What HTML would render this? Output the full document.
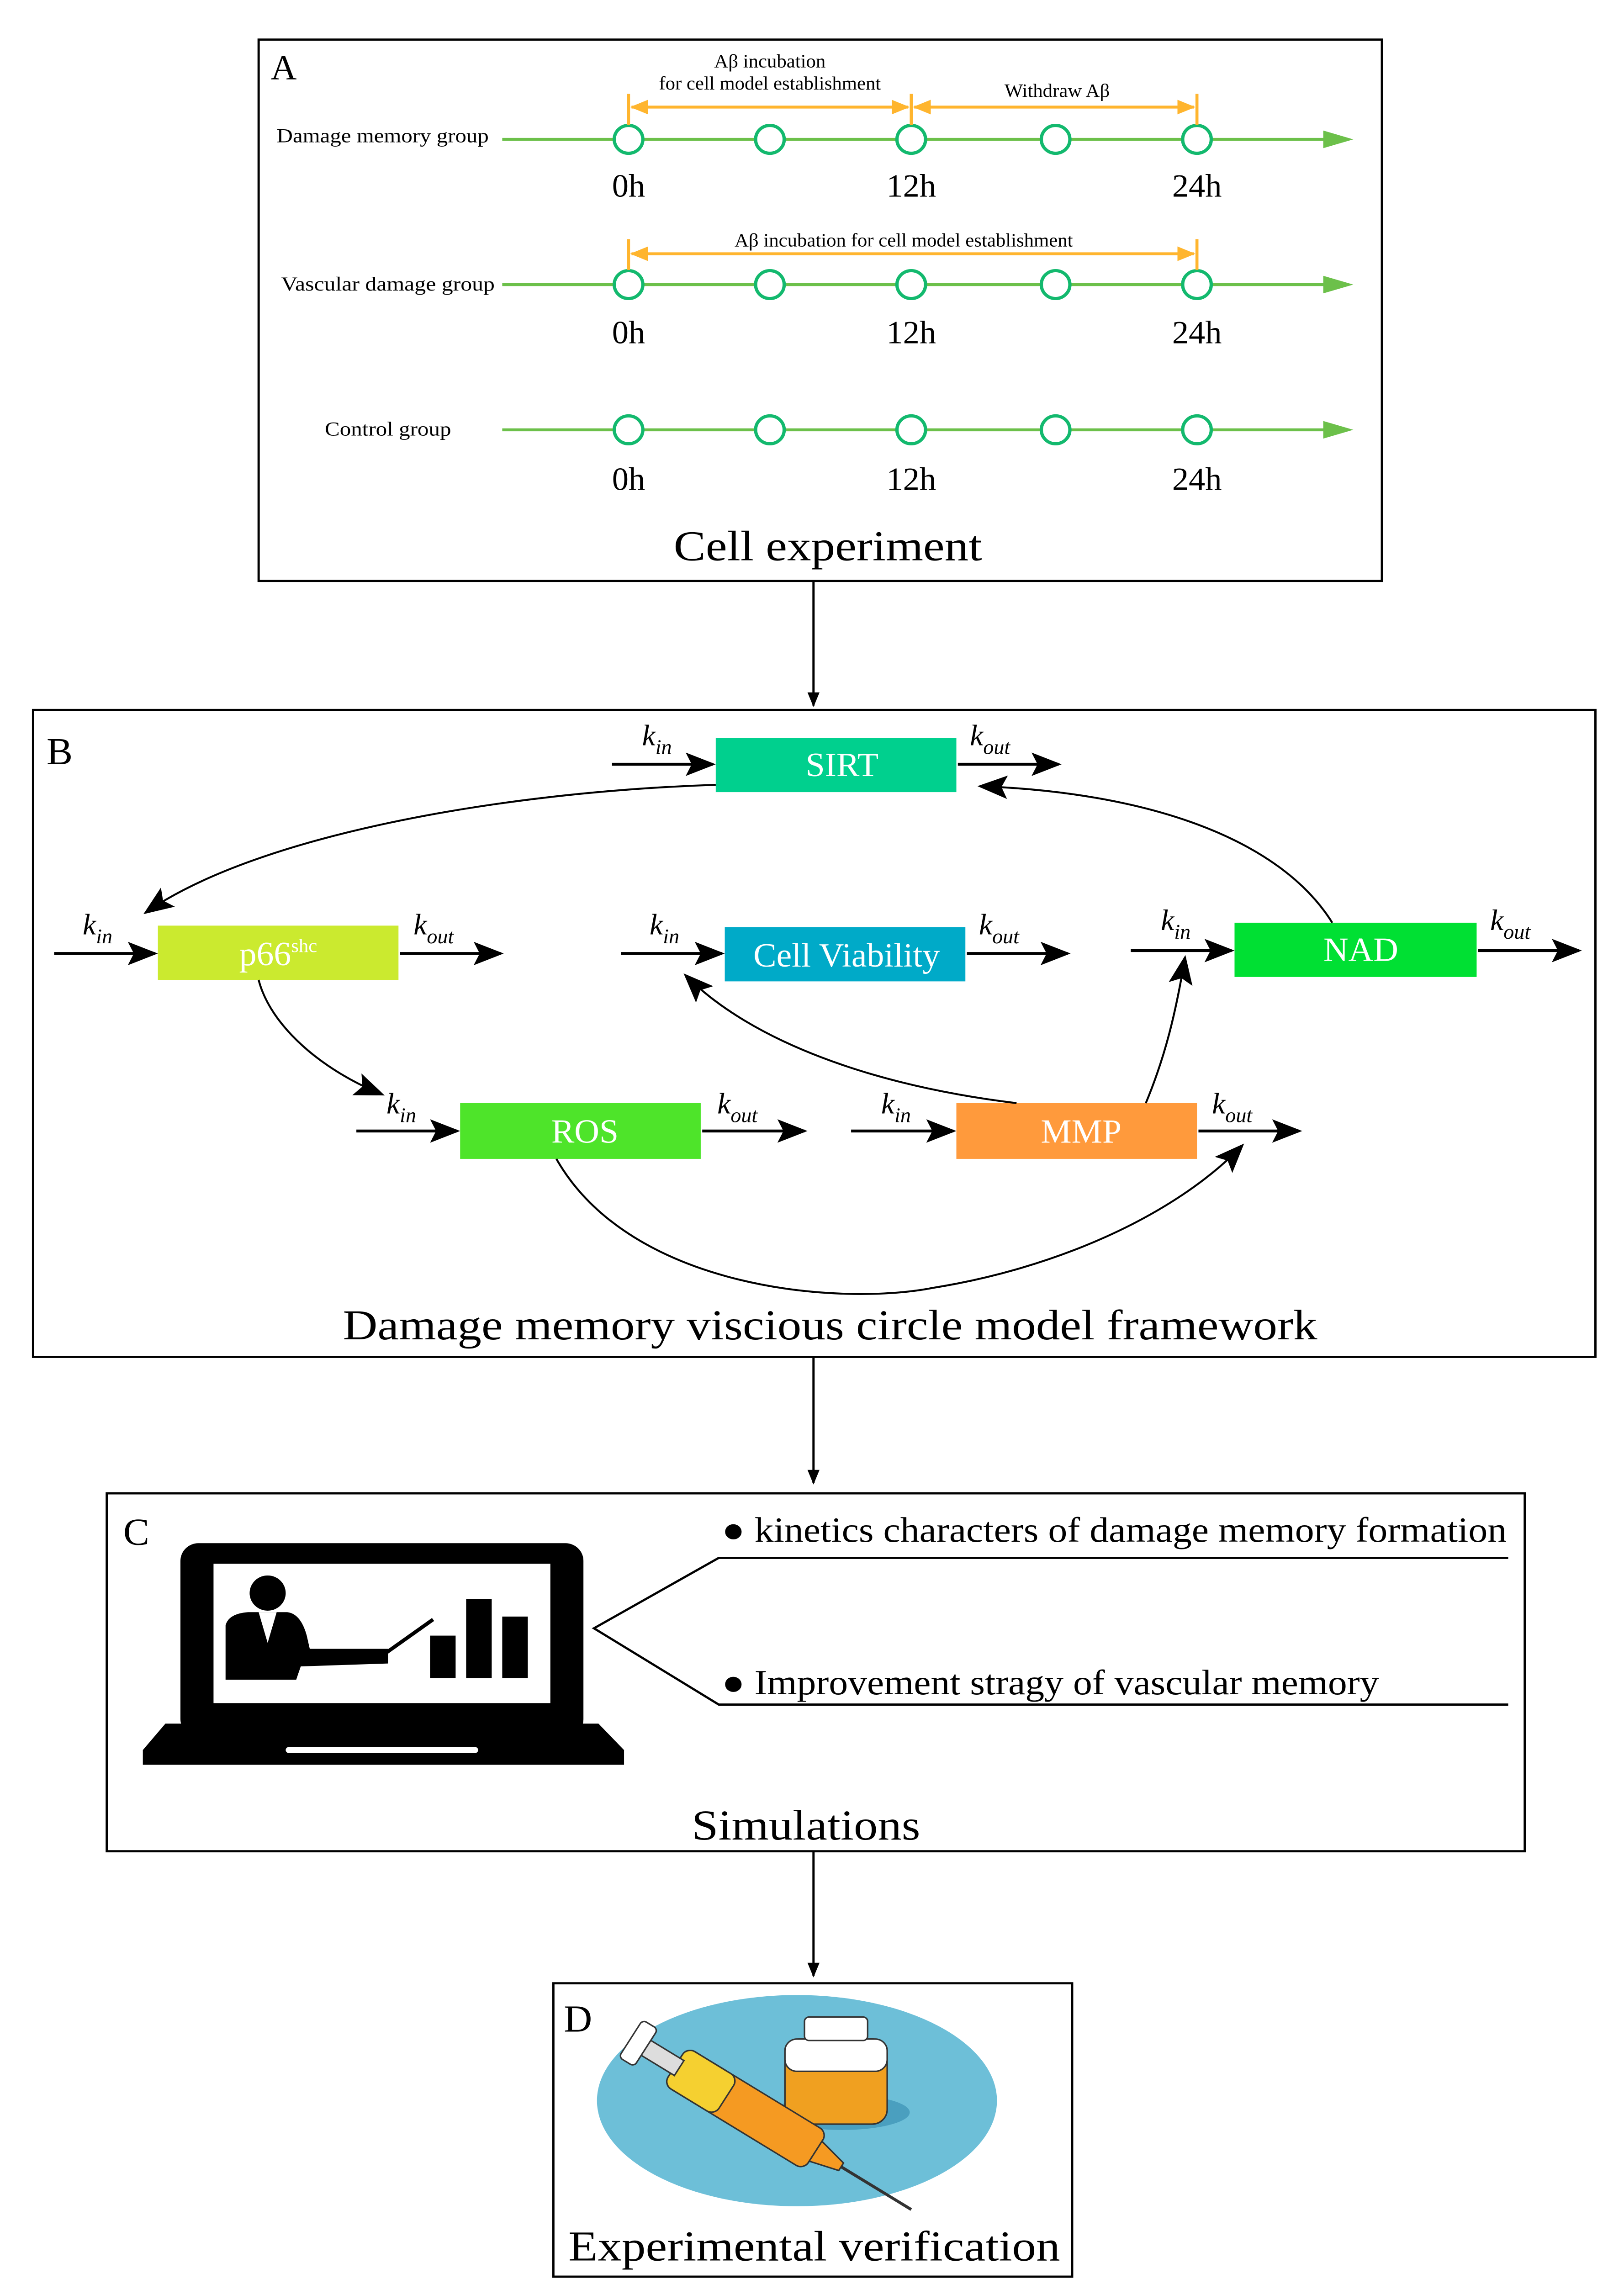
<!DOCTYPE html>
<html><head><meta charset="utf-8"><style>html,body{margin:0;padding:0;background:#fff;width:100%;height:100%;overflow:hidden}svg{display:block;position:fixed;left:0;top:0;width:100vw;height:100vh}</style></head>
<body>
<svg xmlns="http://www.w3.org/2000/svg" viewBox="0 0 1080 1557" preserveAspectRatio="none" font-family="Liberation Serif, serif">
<defs>
<marker id="ab" markerWidth="10" markerHeight="8" refX="9" refY="4" orient="auto" markerUnits="userSpaceOnUse"><path d="M0,0 L10,4 L0,8z" fill="#000"/></marker>
<marker id="abig" markerWidth="20" markerHeight="16" refX="18" refY="8" orient="auto" markerUnits="userSpaceOnUse"><path d="M0,0 L20,8 L0,16 L4,8z" fill="#000"/></marker>
<marker id="ao" markerWidth="12" markerHeight="10" refX="11" refY="5" orient="auto-start-reverse" markerUnits="userSpaceOnUse"><path d="M0,0 L12,5 L0,10z" fill="#ffb52e"/></marker>
</defs>
<!-- Panel A -->
<rect x="172" y="27" width="747" height="369" fill="none" stroke="#000" stroke-width="1.5"/>
<text x="180" y="54" font-size="24">A</text>
<g stroke="#6cc04a" stroke-width="2">
<line x1="334" y1="95" x2="885" y2="95"/><line x1="334" y1="194" x2="885" y2="194"/><line x1="334" y1="293" x2="885" y2="293"/>
</g>
<g fill="#6cc04a"><path d="M880,89 L900,95 L880,101z"/><path d="M880,188 L900,194 L880,200z"/><path d="M880,287 L900,293 L880,299z"/></g>
<g fill="#fff" stroke="#13b96e" stroke-width="2.2">
<circle cx="418" cy="95" r="9.5"/><circle cx="512" cy="95" r="9.5"/><circle cx="606" cy="95" r="9.5"/><circle cx="702" cy="95" r="9.5"/><circle cx="796" cy="95" r="9.5"/>
<circle cx="418" cy="194" r="9.5"/><circle cx="512" cy="194" r="9.5"/><circle cx="606" cy="194" r="9.5"/><circle cx="702" cy="194" r="9.5"/><circle cx="796" cy="194" r="9.5"/>
<circle cx="418" cy="293" r="9.5"/><circle cx="512" cy="293" r="9.5"/><circle cx="606" cy="293" r="9.5"/><circle cx="702" cy="293" r="9.5"/><circle cx="796" cy="293" r="9.5"/>
</g>
<g stroke="#ffb52e" stroke-width="2" fill="none">
<line x1="418" y1="64" x2="418" y2="85"/><line x1="606" y1="64" x2="606" y2="85"/><line x1="796" y1="64" x2="796" y2="85"/>
<line x1="420" y1="73" x2="604" y2="73" marker-start="url(#ao)" marker-end="url(#ao)"/>
<line x1="608" y1="73" x2="794" y2="73" marker-start="url(#ao)" marker-end="url(#ao)"/>
<line x1="418" y1="163" x2="418" y2="184"/><line x1="796" y1="163" x2="796" y2="184"/>
<line x1="420" y1="173" x2="794" y2="173" marker-start="url(#ao)" marker-end="url(#ao)"/>
</g>
<g font-size="13" text-anchor="middle">
<text x="512" y="46">Aβ incubation</text>
<text x="512" y="61">for cell model establishment</text>
<text x="703" y="66">Withdraw Aβ</text>
<text x="601" y="168">Aβ incubation for cell model establishment</text>
</g>
<g font-size="13.5" text-anchor="end">
<text x="325" y="97" textLength="141" lengthAdjust="spacingAndGlyphs">Damage memory group</text>
<text x="329" y="198" textLength="142" lengthAdjust="spacingAndGlyphs">Vascular damage group</text>
<text x="300" y="297" textLength="84" lengthAdjust="spacingAndGlyphs">Control group</text>
</g>
<g font-size="22" text-anchor="middle">
<text x="418" y="134">0h</text><text x="606" y="134">12h</text><text x="796" y="134">24h</text>
<text x="418" y="234">0h</text><text x="606" y="234">12h</text><text x="796" y="234">24h</text>
<text x="418" y="334">0h</text><text x="606" y="334">12h</text><text x="796" y="334">24h</text>
</g>
<text x="448" y="382" font-size="29" textLength="205" lengthAdjust="spacingAndGlyphs">Cell experiment</text>
<line x1="541" y1="396" x2="541" y2="481" stroke="#000" stroke-width="1.5" marker-end="url(#ab)"/>
<!-- Panel B -->
<rect x="22" y="484" width="1039" height="441" fill="none" stroke="#000" stroke-width="1.5"/>
<text x="31" y="521" font-size="26">B</text>
<rect x="476" y="503" width="160" height="37" fill="#00d08e"/>
<rect x="105" y="631" width="160" height="37" fill="#cbea2f"/>
<rect x="482" y="632" width="160" height="37" fill="#00aac8"/>
<rect x="821" y="629" width="161" height="37" fill="#00e033"/>
<rect x="306" y="752" width="160" height="38" fill="#4ee42a"/>
<rect x="636" y="752" width="160" height="38" fill="#ff9a3c"/>
<g fill="#fff" font-size="23" text-anchor="middle">
<text x="560" y="529">SIRT</text>
<text x="185" y="658">p66<tspan font-size="13" dy="-9">shc</tspan></text>
<text x="563" y="659">Cell Viability</text>
<text x="905" y="655">NAD</text>
<text x="389" y="779">ROS</text>
<text x="719" y="779">MMP</text>
</g>
<g stroke="#000" stroke-width="2" marker-end="url(#abig)">
<line x1="407" y1="521" x2="474" y2="521"/><line x1="637" y1="521" x2="704" y2="521"/>
<line x1="36" y1="650" x2="103" y2="650"/><line x1="266" y1="650" x2="333" y2="650"/>
<line x1="413" y1="650" x2="480" y2="650"/><line x1="643" y1="650" x2="710" y2="650"/>
<line x1="752" y1="648" x2="819" y2="648"/><line x1="983" y1="648" x2="1050" y2="648"/>
<line x1="237" y1="771" x2="304" y2="771"/><line x1="467" y1="771" x2="535" y2="771"/>
<line x1="566" y1="771" x2="634" y2="771"/><line x1="797" y1="771" x2="864" y2="771"/>
</g>
<g font-size="20" font-style="italic">
<text x="427" y="508">k<tspan font-size="14" dy="6">in</tspan></text>
<text x="645" y="508">k<tspan font-size="14" dy="6">out</tspan></text>
<text x="55" y="637">k<tspan font-size="14" dy="6">in</tspan></text>
<text x="275" y="637">k<tspan font-size="14" dy="6">out</tspan></text>
<text x="432" y="637">k<tspan font-size="14" dy="6">in</tspan></text>
<text x="651" y="637">k<tspan font-size="14" dy="6">out</tspan></text>
<text x="772" y="634">k<tspan font-size="14" dy="6">in</tspan></text>
<text x="991" y="634">k<tspan font-size="14" dy="6">out</tspan></text>
<text x="257" y="759">k<tspan font-size="14" dy="6">in</tspan></text>
<text x="477" y="759">k<tspan font-size="14" dy="6">out</tspan></text>
<text x="586" y="759">k<tspan font-size="14" dy="6">in</tspan></text>
<text x="806" y="759">k<tspan font-size="14" dy="6">out</tspan></text>
</g>
<g stroke="#000" stroke-width="1.3" fill="none" marker-end="url(#abig)">
<path d="M476,535 C330,540 170,570 97,622"/>
<path d="M886,629 C850,570 760,540 652,536"/>
<path d="M172,668 C180,700 215,730 254,746"/>
<path d="M676,752 C580,740 500,710 456,665"/>
<path d="M762,752 C775,720 782,690 788,653"/>
<path d="M370,790 C420,880 560,890 620,878 C700,865 780,830 826,781"/>
</g>
<text x="228" y="913" font-size="29" textLength="648" lengthAdjust="spacingAndGlyphs">Damage memory viscious circle model framework</text>
<line x1="541" y1="925" x2="541" y2="1011" stroke="#000" stroke-width="1.5" marker-end="url(#ab)"/>
<!-- Panel C -->
<rect x="71" y="1018" width="943" height="244" fill="none" stroke="#000" stroke-width="1.5"/>
<text x="82" y="1053" font-size="26">C</text>
<rect x="120" y="1052" width="268" height="132" rx="12" fill="#000"/>
<rect x="142" y="1066" width="224" height="95" fill="#fff"/>
<path d="M110,1175 L398,1175 L415,1193 L415,1203 L95,1203 L95,1193z" fill="#000"/>
<rect x="190" y="1191" width="128" height="4" rx="2" fill="#fff"/>
<circle cx="178" cy="1086" r="12" fill="#000"/>
<path d="M150,1145 L150,1108 Q152,1100 165,1099 L191,1099 Q200,1100 204,1115 L206,1124 L258,1124 L258,1134 L200,1136 L197,1145z" fill="#000"/>
<path d="M172,1099 L178,1120 L184,1099z" fill="#fff"/>
<line x1="255" y1="1128" x2="288" y2="1104" stroke="#000" stroke-width="2.5"/>
<rect x="286" y="1115" width="17" height="29" fill="#000"/>
<rect x="310" y="1090" width="17" height="54" fill="#000"/>
<rect x="334" y="1102" width="17" height="42" fill="#000"/>
<polyline points="1003,1062 478,1062 395,1110 478,1162 1003,1162" fill="none" stroke="#000" stroke-width="1.5"/>
<g font-size="24">
<text x="480" y="1051" textLength="522" lengthAdjust="spacingAndGlyphs">● kinetics characters of damage memory formation</text>
<text x="480" y="1155" textLength="437" lengthAdjust="spacingAndGlyphs">● Improvement stragy of vascular memory</text>
</g>
<text x="460" y="1254" font-size="29" textLength="152" lengthAdjust="spacingAndGlyphs">Simulations</text>
<line x1="541" y1="1262" x2="541" y2="1347" stroke="#000" stroke-width="1.5" marker-end="url(#ab)"/>
<!-- Panel D -->
<rect x="368" y="1352" width="345" height="200" fill="none" stroke="#000" stroke-width="1.5"/>
<text x="375" y="1385" font-size="26">D</text>
<ellipse cx="530" cy="1432" rx="133" ry="72" fill="#6dbfd8"/>
<ellipse cx="560" cy="1440" rx="45" ry="12" fill="#4a9fbf"/>
<rect x="522" y="1390" width="68" height="58" rx="10" fill="#f0a020" stroke="#333" stroke-width="1"/>
<rect x="522" y="1390" width="68" height="22" rx="8" fill="#fff" stroke="#333" stroke-width="1"/>
<rect x="535" y="1375" width="42" height="16" rx="3" fill="#fff" stroke="#333" stroke-width="1"/>
<g transform="rotate(32 500 1440)">
<rect x="440" y="1425" width="110" height="30" rx="6" fill="#f59a22" stroke="#333" stroke-width="1"/>
<rect x="440" y="1425" width="40" height="30" rx="6" fill="#f5d030" stroke="#333" stroke-width="1"/>
<rect x="415" y="1434" width="28" height="12" fill="#ddd" stroke="#333" stroke-width="1"/>
<rect x="405" y="1425" width="12" height="30" rx="3" fill="#fff" stroke="#333" stroke-width="1"/>
<path d="M550,1432 L570,1437 L570,1443 L550,1448z" fill="#f59a22" stroke="#333" stroke-width="1"/>
<line x1="570" y1="1440" x2="625" y2="1440" stroke="#333" stroke-width="2"/>
</g>
<text x="378" y="1541" font-size="29" textLength="327" lengthAdjust="spacingAndGlyphs">Experimental verification</text>
</svg>
</body></html>
